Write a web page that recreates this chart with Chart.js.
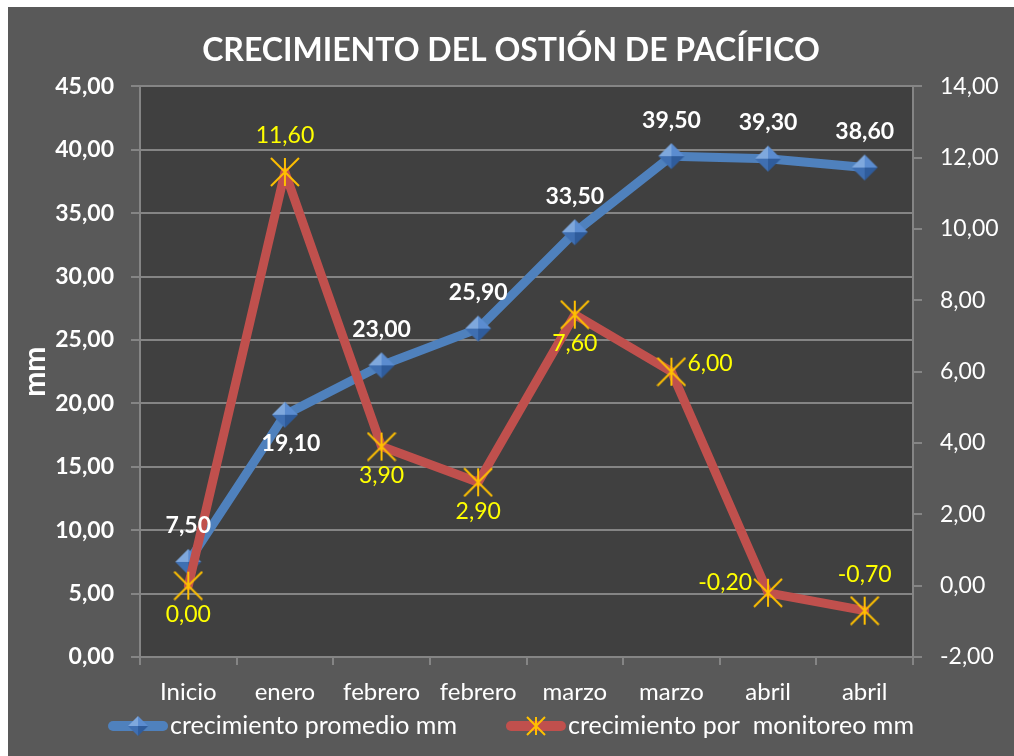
<!DOCTYPE html>
<html>
<head>
<meta charset="utf-8">
<script src="https://cdn.jsdelivr.net/npm/chart.js@4.4.0/dist/chart.umd.min.js"></script>
<style>
body { margin: 0; background: #fff; }
#wrap { position: absolute; left: 8px; top: 7px; width: 1006px; height: 749px; background: #595959; }
</style>
</head>
<body>
<div id="wrap"><canvas id="myChart"></canvas></div>
<script>
// data
var categories = ['Inicio', 'enero', 'febrero', 'febrero', 'marzo', 'marzo', 'abril', 'abril'];
var promedio = [7.5, 19.1, 23.0, 25.9, 33.5, 39.5, 39.3, 38.6];
var monitoreo = [0.0, 11.6, 3.9, 2.9, 7.6, 6.0, -0.2, -0.7];
var leftTicks = [0, 5, 10, 15, 20, 25, 30, 35, 40, 45];
var rightTicks = [-2, 0, 2, 4, 6, 8, 10, 12, 14];

// where each value label sits relative to its point
var promedioPos = ['above', 'below', 'above', 'above', 'above', 'above', 'above', 'above'];
var monitoreoPos = ['below', 'above', 'below', 'below', 'below', 'right', 'left', 'above'];

function fmt(v) { return v.toFixed(2).replace('.', ','); }

// blue diamond with facets
function diamond(r) {
  var c = document.createElement('canvas');
  c.width = c.height = 2 * r + 2;
  var g = c.getContext('2d');
  var m = r + 1;
  var tri = function(ax, ay, bx, by, col) {
    g.beginPath(); g.moveTo(m, m); g.lineTo(ax, ay); g.lineTo(bx, by); g.closePath();
    g.fillStyle = col; g.fill();
  };
  tri(m, 1, 1, m, '#7fa8dd');
  tri(m, 1, 2 * r + 1, m, '#5b8cd0');
  tri(1, m, m, 2 * r + 1, '#3f6fb2');
  tri(2 * r + 1, m, m, 2 * r + 1, '#2f5c9c');
  return c;
}

// orange star: vertical bar plus an X
function star(r) {
  var c = document.createElement('canvas');
  c.width = c.height = 2 * r + 2;
  var g = c.getContext('2d');
  var m = r + 1;
  g.strokeStyle = '#ffc000';
  g.lineWidth = 2;
  g.beginPath();
  g.moveTo(m, 1); g.lineTo(m, 2 * r + 1);
  g.moveTo(1, 1); g.lineTo(2 * r + 1, 2 * r + 1);
  g.moveTo(2 * r + 1, 1); g.lineTo(1, 2 * r + 1);
  g.stroke();
  return c;
}

Chart.defaults.font.family = 'Lato';
Chart.defaults.color = '#ffffff';

var plotBg = {
  id: 'plotBg',
  beforeDraw: function(chart) {
    var a = chart.chartArea, ctx = chart.ctx;
    ctx.save();
    ctx.fillStyle = '#404040';
    ctx.fillRect(a.left, a.top, a.right - a.left, a.bottom - a.top);
    ctx.restore();
  }
};

var valueLabels = {
  id: 'valueLabels',
  afterDatasetsDraw: function(chart) {
    var ctx = chart.ctx;
    chart.data.datasets.forEach(function(ds, i) {
      var meta = chart.getDatasetMeta(i);
      meta.data.forEach(function(pt, j) {
        var pos = ds.labelPos[j];
        var x = pt.x, y = pt.y;
        ctx.save();
        ctx.font = ds.labelFont;
        ctx.fillStyle = ds.labelColor;
        ctx.textBaseline = 'middle';
        ctx.textAlign = 'center';
        if (pos === 'above') y -= 36;
        else if (pos === 'below') { y += 29; x += (i === 0 ? 6 : 0); }
        else if (pos === 'right') { x += 16; y -= 8; ctx.textAlign = 'left'; }
        else if (pos === 'left') { x -= 16; y -= 10; ctx.textAlign = 'right'; }
        ctx.fillText(fmt(ds.data[j]), x, y);
        ctx.restore();
      });
    });
  }
};

var legendDraw = {
  id: 'legendDraw',
  afterDraw: function(chart) {
    var ctx = chart.ctx;
    var items = chart.data.datasets;
    ctx.save();
    ctx.font = '25px Lato';
    var symW = 60, gap = 2, spacing = 49, total = 0;
    items.forEach(function(ds, k) {
      total += symW + gap + ctx.measureText(ds.label).width + (k ? spacing : 0);
    });
    var x = (chart.width - total) / 2, y = 719;
    items.forEach(function(ds) {
      ctx.strokeStyle = ds.borderColor;
      ctx.lineWidth = 10;
      ctx.lineCap = 'round';
      ctx.beginPath(); ctx.moveTo(x + 5, y); ctx.lineTo(x + symW - 5, y); ctx.stroke();
      var img = ds.legendMarker;
      ctx.drawImage(img, x + symW / 2 - img.width / 2, y - img.height / 2);
      ctx.fillStyle = '#ffffff';
      ctx.textBaseline = 'middle';
      ctx.textAlign = 'left';
      ctx.fillText(ds.label, x + symW + gap, y);
      x += symW + gap + ctx.measureText(ds.label).width + spacing;
    });
    ctx.restore();
  }
};

var ctx = document.getElementById('myChart').getContext('2d');
var chart = new Chart(ctx, {
  type: 'line',
  data: {
    labels: categories,
    datasets: [{
      label: 'crecimiento promedio mm',
      data: promedio,
      yAxisID: 'y',
      borderColor: '#4f81bd',
      backgroundColor: '#4f81bd',
      borderWidth: 9,
      borderJoinStyle: 'round',
      borderCapStyle: 'round',
      tension: 0,
      pointStyle: diamond(13),
      pointRadius: 13,
      order: 1,
      labelPos: promedioPos,
      labelFont: 'bold 23px Lato',
      labelColor: '#ffffff',
      legendMarker: diamond(10)
    }, {
      label: 'crecimiento por  monitoreo mm',
      data: monitoreo,
      yAxisID: 'y1',
      borderColor: '#c0504d',
      backgroundColor: '#c0504d',
      borderWidth: 9,
      borderJoinStyle: 'round',
      borderCapStyle: 'round',
      tension: 0,
      pointStyle: star(14),
      pointRadius: 14,
      order: 0,
      labelPos: monitoreoPos,
      labelFont: '23px Lato',
      labelColor: '#ffff00',
      legendMarker: star(9)
    }]
  },
  options: {
    responsive: true,
    maintainAspectRatio: false,
    animation: false,
    layout: { padding: { left: 0, right: 0, top: 0, bottom: 39 } },
    plugins: {
      legend: { display: false },
      tooltip: { enabled: false },
      title: {
        display: true,
        text: 'CRECIMIENTO DEL OSTIÓN DE PACÍFICO',
        color: '#ffffff',
        font: { size: 32, weight: 'bold' },
        padding: { top: 24, bottom: 17 }
      }
    },
    scales: {
      x: {
        offset: true,
        grid: { offset: true, drawOnChartArea: false, color: '#858585', lineWidth: 2, tickLength: 8 },
        border: { color: '#858585', width: 2 },
        ticks: { font: { size: 24 }, color: '#ffffff', padding: 13, maxRotation: 0 },
        afterFit: function(s) { s.height = 60; }
      },
      y: {
        position: 'left',
        min: leftTicks[0],
        max: leftTicks[leftTicks.length - 1],
        afterBuildTicks: function(s) { s.ticks = leftTicks.map(function(v) { return { value: v }; }); },
        grid: { color: '#858585', lineWidth: 2, tickLength: 9 },
        border: { color: '#858585', width: 2 },
        ticks: { font: { size: 23, weight: 'bold' }, color: '#ffffff', padding: 17, callback: function(v) { return fmt(v); } },
        title: { display: true, text: 'mm', color: '#ffffff', font: { size: 30, weight: 'bold' }, padding: { top: 9, bottom: 0 } },
        afterFit: function(s) { s.width = 132; }
      },
      y1: {
        position: 'right',
        min: rightTicks[0],
        max: rightTicks[rightTicks.length - 1],
        afterBuildTicks: function(s) { s.ticks = rightTicks.map(function(v) { return { value: v }; }); },
        grid: { drawOnChartArea: false, color: '#858585', lineWidth: 2, tickLength: 9 },
        border: { color: '#858585', width: 2 },
        ticks: { font: { size: 23 }, color: '#ffffff', padding: 18, callback: function(v) { return fmt(v); } },
        afterFit: function(s) { s.width = 101; }
      }
    }
  },
  plugins: [plotBg, valueLabels, legendDraw]
});
</script>
</body>
</html>
